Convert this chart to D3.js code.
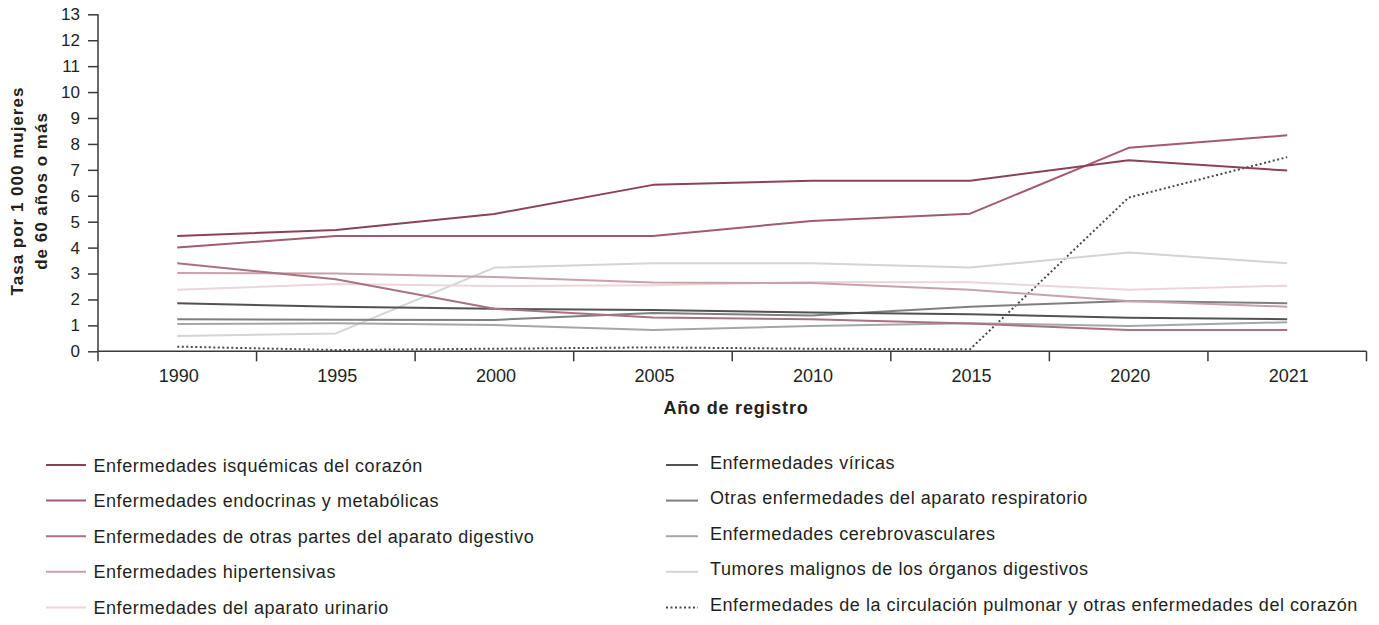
<!DOCTYPE html>
<html>
<head>
<meta charset="utf-8">
<script src="https://cdn.jsdelivr.net/npm/d3@7"></script>
<style>
  html, body { margin: 0; padding: 0; background: #fff; }
  svg { display: block; font-family: "Liberation Sans", Arial, sans-serif; }
</style>
</head>
<body>
<svg id="chart" width="1379" height="625"></svg>
<script>
// ---- data ----
const years = ["1990", "1995", "2000", "2005", "2010", "2015", "2020", "2021"];
const yTicks = [0, 1, 2, 3, 4, 5, 6, 7, 8, 9, 10, 11, 12, 13];

const isquemicas    = [4.45, 4.68, 5.30, 6.42, 6.58, 6.58, 7.37, 6.97];
const endocrinas    = [4.00, 4.45, 4.45, 4.45, 5.03, 5.31, 7.85, 8.33];
const digestivo     = [3.40, 2.78, 1.64, 1.30, 1.24, 1.07, 0.82, 0.82];
const hipertensivas = [3.02, 3.00, 2.87, 2.65, 2.63, 2.37, 1.94, 1.72];
const urinario      = [2.37, 2.60, 2.52, 2.55, 2.67, 2.66, 2.37, 2.53];
const viricas       = [1.85, 1.72, 1.64, 1.59, 1.50, 1.43, 1.29, 1.24];
const respiratorio  = [1.24, 1.22, 1.21, 1.48, 1.38, 1.72, 1.94, 1.85];
const cerebro       = [1.05, 1.08, 1.01, 0.82, 0.98, 1.08, 0.98, 1.12];
const tumores       = [0.59, 0.69, 3.23, 3.40, 3.40, 3.23, 3.81, 3.40];
const pulmonar      = [0.18, 0.05, 0.10, 0.15, 0.10, 0.08, 5.93, 7.49];

const seriesNames = [
  "Enfermedades isquémicas del corazón",
  "Enfermedades endocrinas y metabólicas",
  "Enfermedades de otras partes del aparato digestivo",
  "Enfermedades hipertensivas",
  "Enfermedades del aparato urinario",
  "Enfermedades víricas",
  "Otras enfermedades del aparato respiratorio",
  "Enfermedades cerebrovasculares",
  "Tumores malignos de los órganos digestivos",
  "Enfermedades de la circulación pulmonar y otras enfermedades del corazón"
];
const seriesValues = [isquemicas, endocrinas, digestivo, hipertensivas, urinario,
                      viricas, respiratorio, cerebro, tumores, pulmonar];
const seriesColors = ["#8a4356", "#a25a6e", "#a87282", "#c9a1ab", "#ecd6da",
                      "#525252", "#7f7f7f", "#a6a6a6", "#d4d4d4", "#4a4a4a"];
const seriesDash = [null, null, null, null, null, null, null, null, null, "2,2.5"];

// ---- layout ----
const svg = d3.select("#chart");
const plotLeft = 98, plotRight = 1366.5, plotTop = 14.3, plotBottom = 351.3;
const textColor = "#231f20";
const axisColor = "#3a3a3a";

const x = d3.scaleBand().domain(years).range([plotLeft, plotRight]).padding(0);
const y = d3.scaleLinear().domain([0, 13]).range([plotBottom, plotTop]);

// Y axis
const yAxis = svg.append("g").attr("transform", `translate(${plotLeft},0)`)
  .call(d3.axisLeft(y).tickValues(yTicks).tickSize(10).tickPadding(8).tickFormat(d3.format("d")));
yAxis.select(".domain").attr("stroke", axisColor).attr("stroke-width", 1.5)
  .attr("d", `M0,${y(13)}V${plotBottom}`);
yAxis.selectAll(".tick line").attr("stroke", axisColor).attr("stroke-width", 1.5);
yAxis.selectAll(".tick text").attr("fill", textColor).style("font-size", "17px")
  .attr("font-family", "Liberation Sans, Arial, sans-serif");

// X axis (ticks at band boundaries)
const xAxisG = svg.append("g").attr("transform", `translate(0,${plotBottom})`);
xAxisG.append("path").attr("d", `M${plotLeft},0H${plotRight}`).attr("stroke", axisColor)
  .attr("stroke-width", 1.5).attr("fill", "none");
const boundaries = years.map(d => x(d)).concat([x(years[years.length - 1]) + x.bandwidth()]);
xAxisG.selectAll("line.tk").data(boundaries).join("line").attr("class", "tk")
  .attr("x1", d => d).attr("x2", d => d).attr("y1", 0).attr("y2", 10)
  .attr("stroke", axisColor).attr("stroke-width", 1.5);
xAxisG.selectAll("text.yl").data(years).join("text").attr("class", "yl")
  .attr("x", d => x(d) + x.bandwidth() / 2 + 1.5).attr("y", 31)
  .attr("text-anchor", "middle").attr("fill", textColor).style("font-size", "18px")
  .text(d => d);

// Axis titles
svg.append("text").attr("x", 736).attr("y", 414).attr("text-anchor", "middle")
  .attr("fill", textColor).style("font-size", "18px").style("font-weight", "bold")
  .style("letter-spacing", "0.8px").text("Año de registro");
const yt = svg.append("text").attr("transform", "translate(0,191) rotate(-90)")
  .attr("text-anchor", "middle").attr("fill", textColor)
  .style("font-size", "17px").style("font-weight", "bold").style("letter-spacing", "1px");
yt.append("tspan").attr("x", 0).attr("y", 23).text("Tasa por 1 000 mujeres");
yt.append("tspan").attr("x", 0).attr("y", 47).text("de 60 años o más");

// Lines
const line = d3.line().x((d, i) => x(years[i]) + x.bandwidth() / 2).y(d => y(d));
const order = [9, 8, 7, 6, 5, 4, 3, 2, 1, 0];
svg.append("g").selectAll("path").data(order).join("path")
  .attr("d", i => line(seriesValues[i]))
  .attr("fill", "none")
  .attr("stroke", i => seriesColors[i])
  .attr("stroke-width", 2)
  .attr("stroke-dasharray", i => seriesDash[i])
  .attr("stroke-linejoin", "round");

// Legend
const legend = svg.append("g");
seriesNames.forEach((name, i) => {
  const col = i < 5 ? 0 : 1;
  const row = i % 5;
  const ly = 465 + row * 35.6;
  const lx0 = col === 0 ? 46 : 666;
  const lx1 = col === 0 ? 86 : 698;
  const tx = col === 0 ? 93.5 : 710;
  legend.append("line").attr("x1", lx0).attr("x2", lx1).attr("y1", ly).attr("y2", ly)
    .attr("stroke", seriesColors[i]).attr("stroke-width", 2)
    .attr("stroke-dasharray", seriesDash[i]);
  legend.append("text").attr("x", tx).attr("y", ly + (col === 0 ? 3 : 0) + 3.5)
    .attr("fill", textColor).style("font-size", "18px").style("letter-spacing", "0.55px")
    .text(name);
});
</script>
</body>
</html>
